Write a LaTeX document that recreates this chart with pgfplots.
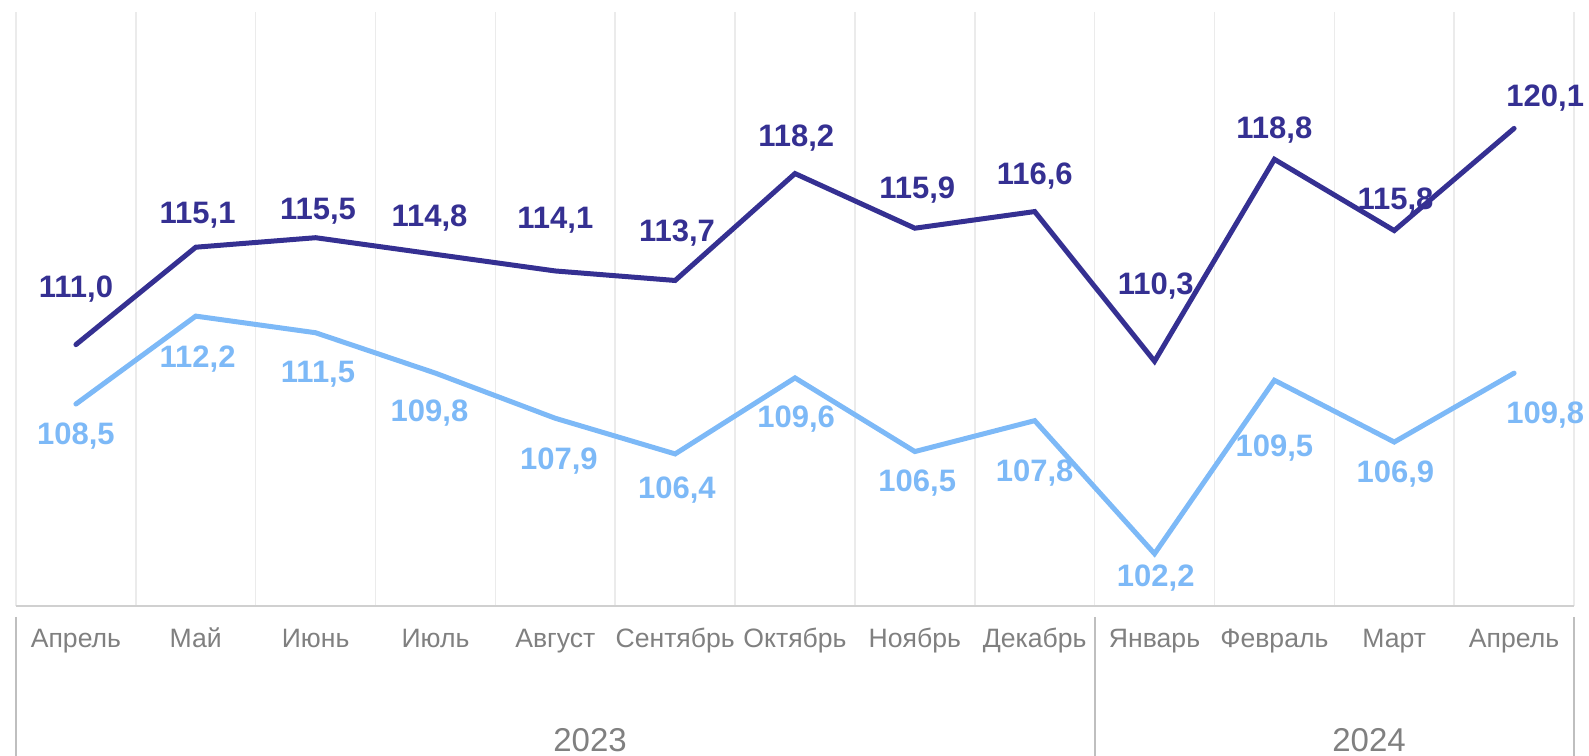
\documentclass[border=0pt]{standalone}
\usepackage{pgfplots}
\pgfplotsset{compat=1.18}
\usepackage{fontspec}
\setmainfont{Liberation Sans}
\definecolor{darkln}{HTML}{353092}
\definecolor{lightln}{HTML}{7DB9F7}
\definecolor{txtgray}{HTML}{808080}
\definecolor{gridgray}{HTML}{EBEBEB}
\definecolor{axgray}{HTML}{D0D0D0}
\definecolor{sepgray}{HTML}{BFBFBF}
\begin{document}
\begin{tikzpicture}
\begin{axis}[
  name=ax,
  scale only axis,
  width=779pt, height=297pt,
  xmin=-0.5, xmax=12.5, ymin=100, ymax=125,
  axis line style={draw=none},
  ytick=\empty,
  xtick={0,...,12},
  xticklabels={Апрель,Май,Июнь,Июль,Август,Сентябрь,Октябрь,Ноябрь,Декабрь,Январь,Февраль,Март,Апрель},
  major tick length=0pt,
  minor tick length=0pt,
  xticklabel style={anchor=base, yshift=-21pt, font=\fontsize{13.3pt}{15pt}\selectfont, text=txtgray},
  minor xtick={-0.5,0.5,...,12.5},
  xminorgrids=true,
  minor grid style={draw=gridgray, line width=0.75pt},
  clip=false,
]
\draw[axgray, line width=0.9pt] (axis cs:-0.5,100) -- (axis cs:12.5,100);
\foreach \xx in {-0.5,8.5,12.5} {
  \edef\tmp{\noexpand\draw[sepgray, line width=1pt] ([yshift=-5.5pt]axis cs:\xx,100) -- ([yshift=-90pt]axis cs:\xx,100);}
  \tmp
}
\addplot[darkln, line width=2.5pt, line cap=round, line join=miter] coordinates {
(0,111.0) (1,115.1) (2,115.5) (3,114.8) (4,114.1) (5,113.7) (6,118.2) (7,115.9) (8,116.6) (9,110.3) (10,118.8) (11,115.8) (12,120.1)};
\addplot[lightln, line width=2.5pt, line cap=round, line join=miter] coordinates {
(0,108.5) (1,112.2) (2,111.5) (3,109.8) (4,107.9) (5,106.4) (6,109.6) (7,106.5) (8,107.8) (9,102.2) (10,109.5) (11,106.9) (12,109.8)};
\begin{scope}[every node/.style={font=\bfseries\fontsize{15.5pt}{17pt}\selectfont, inner sep=0pt, text height=0.716em, text depth=0pt, anchor=center}]
\node[text=darkln] at (axis cs:0,113.27) {111,0};
\node[text=darkln] at (axis cs:1.015,116.42) {115,1};
\node[text=darkln] at (axis cs:2.02,116.55) {115,5};
\node[text=darkln] at (axis cs:2.95,116.29) {114,8};
\node[text=darkln] at (axis cs:4.0,116.17) {114,1};
\node[text=darkln] at (axis cs:5.015,115.65) {113,7};
\node[text=darkln] at (axis cs:6.01,119.62) {118,2};
\node[text=darkln] at (axis cs:7.02,117.45) {115,9};
\node[text=darkln] at (axis cs:8.0,118.04) {116,6};
\node[text=darkln] at (axis cs:9.01,113.39) {110,3};
\node[text=darkln] at (axis cs:10.0,119.96) {118,8};
\node[text=darkln] at (axis cs:11.01,116.97) {115,8};
\node[text=darkln] at (axis cs:12.26,121.33) {120,1};
\node[text=lightln] at (axis cs:0,107.08) {108,5};
\node[text=lightln] at (axis cs:1.015,110.32) {112,2};
\node[text=lightln] at (axis cs:2.02,109.72) {111,5};
\node[text=lightln] at (axis cs:2.95,108.06) {109,8};
\node[text=lightln] at (axis cs:4.03,106.06) {107,9};
\node[text=lightln] at (axis cs:5.015,104.82) {106,4};
\node[text=lightln] at (axis cs:6.01,107.8) {109,6};
\node[text=lightln] at (axis cs:7.02,105.12) {106,5};
\node[text=lightln] at (axis cs:8.0,105.54) {107,8};
\node[text=lightln] at (axis cs:9.01,101.11) {102,2};
\node[text=lightln] at (axis cs:10.0,106.61) {109,5};
\node[text=lightln] at (axis cs:11.01,105.5) {106,9};
\node[text=lightln] at (axis cs:12.26,107.98) {109,8};
\end{scope}
\node[anchor=base, text=txtgray, font=\fontsize{16.5pt}{18pt}\selectfont, inner sep=0pt] at ([yshift=-73pt]axis cs:4.29,100) {2023};
\node[anchor=base, text=txtgray, font=\fontsize{16.5pt}{18pt}\selectfont, inner sep=0pt] at ([yshift=-73pt]axis cs:10.79,100) {2024};
\end{axis}
\pgfresetboundingbox
\path[use as bounding box] ([xshift=-8pt,yshift=-75pt]ax.south west) rectangle ([xshift=7.5pt,yshift=6pt]ax.north east);
\end{tikzpicture}
\end{document}
